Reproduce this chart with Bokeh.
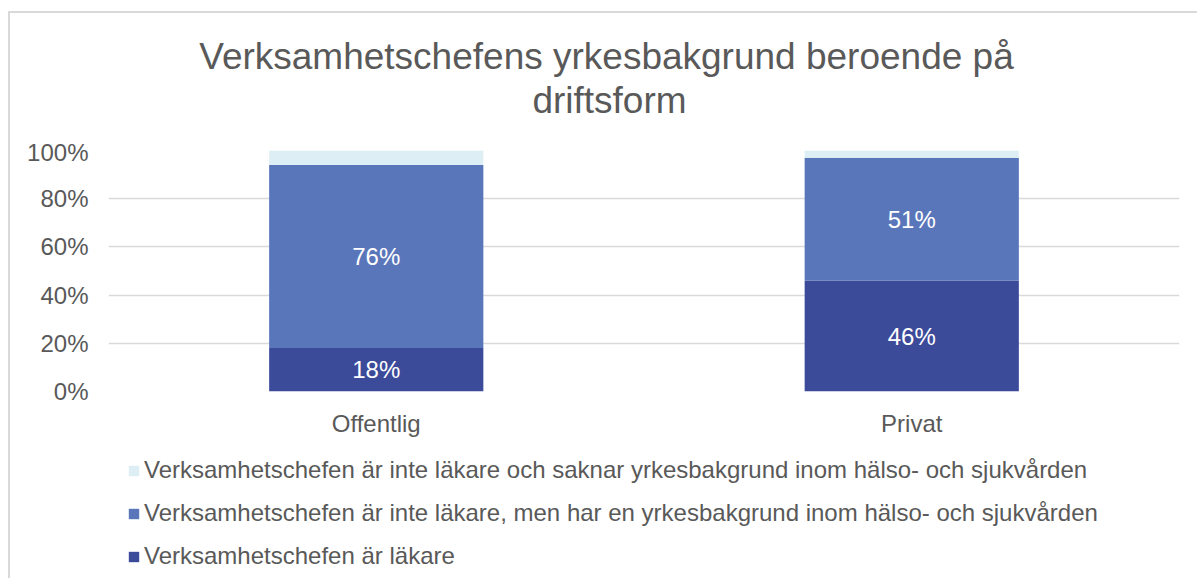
from bokeh.plotting import figure
from bokeh.layouts import column
from bokeh.models import FactorRange, ColumnDataSource, Legend, LegendItem, PrintfTickFormatter, FixedTicker, Range1d
from bokeh.core.properties import value
from bokeh.embed import file_html
from bokeh.resources import INLINE

categories = ["Offentlig", "Privat"]
lakare = [18, 46]
inte_lakare_halso = [76, 51]
inte_lakare_saknar = [6, 3]
series_names = [
    "Verksamhetschefen är läkare",
    "Verksamhetschefen är inte läkare, men har en yrkesbakgrund inom hälso- och sjukvården",
    "Verksamhetschefen är inte läkare och saknar yrkesbakgrund inom hälso- och sjukvården",
]
title_lines = ["Verksamhetschefens yrkesbakgrund beroende på", "driftsform"]
colors = ["#3C4A9A", "#5A76BA", "#DDEFF4"]
y_ticks = [0, 20, 40, 60, 80, 100]

FONT = "Liberation Sans"
GRAY = "#595959"
W = 1189
ML, MR = 98, 20

# ---- title strip ----
p0 = figure(x_range=Range1d(0, W - ML - MR), y_range=Range1d(127, 0), width=W, height=127,
            output_backend="svg", toolbar_location=None,
            min_border_left=ML, min_border_right=MR, min_border_top=0, min_border_bottom=0)
p0.styles = {"margin-top": "11px", "margin-left": "8px",
             "border-top": "2px solid #D9D9D9", "border-left": "2px solid #D9D9D9"}
p0.xaxis.visible = False
p0.yaxis.visible = False
p0.xgrid.visible = False
p0.ygrid.visible = False
p0.outline_line_color = None
p0.text(x=[498, 501], y=[43, 87], text=title_lines, text_color=GRAY, text_font=value(FONT),
        text_font_size="37px", text_align="center", text_baseline="alphabetic")

# ---- main chart ----
src = ColumnDataSource(dict(cat=categories, a=lakare, b=inte_lakare_halso, c=inte_lakare_saknar))

p = figure(x_range=FactorRange(*categories), y_range=(0, 100),
           width=W, height=301, output_backend="svg", toolbar_location=None,
           min_border_left=ML, min_border_right=MR, min_border_top=12, min_border_bottom=48)
p.styles = {"margin-left": "8px", "border-left": "2px solid #D9D9D9"}

rs = p.vbar_stack(["a", "b", "c"], x="cat", width=0.4, source=src, color=colors, line_color=None)

lab_x, lab_y, lab_t = [], [], []
for i, c in enumerate(categories):
    lab_x += [c, c]
    lab_y += [lakare[i] / 2, lakare[i] + inte_lakare_halso[i] / 2]
    lab_t += [f"{lakare[i]}%", f"{inte_lakare_halso[i]}%"]
p.text(x=lab_x, y=lab_y, text=lab_t, text_color="white", text_font=value(FONT),
       text_font_size="24px", text_align="center", text_baseline="middle")

p.title.text = ""
p.xgrid.grid_line_color = None
p.ygrid.grid_line_color = "#D9D9D9"
p.ygrid.grid_line_width = 1.5
p.yaxis.ticker = FixedTicker(ticks=y_ticks)
p.yaxis.formatter = PrintfTickFormatter(format="%d%%")
for ax in (p.xaxis, p.yaxis):
    ax.axis_line_color = None
    ax.major_tick_line_color = None
    ax.minor_tick_line_color = None
    ax.major_label_text_font = FONT
    ax.major_label_text_font_size = "24px"
    ax.major_label_text_color = GRAY
p.yaxis.major_label_standoff = 14
p.xaxis.major_label_standoff = 12
p.outline_line_color = None

# ---- legend strip ----
p2 = figure(x_range=Range1d(0, 1), y_range=Range1d(0, 1), width=W, height=139,
            output_backend="svg", toolbar_location=None,
            min_border_left=ML, min_border_right=MR, min_border_top=0, min_border_bottom=0)
p2.styles = {"margin-left": "8px", "border-left": "2px solid #D9D9D9"}
p2.xaxis.visible = False
p2.yaxis.visible = False
p2.xgrid.visible = False
p2.ygrid.visible = False
p2.outline_line_color = None
dummies = [p2.vbar(x=[-10], bottom=[-6], top=[-5], width=0.1, color=colors[i], line_color=None)
           for i in range(3)]
items = [LegendItem(label=series_names[i], renderers=[dummies[i]]) for i in (2, 1, 0)]
legend = Legend(items=items, location=(19, 8), orientation="vertical")
legend.margin = 0
legend.padding = 0
legend.spacing = 15
legend.glyph_width = 13
legend.glyph_height = 13
legend.label_standoff = 4
legend.label_text_font = FONT
legend.label_text_font_size = "24px"
legend.label_text_color = GRAY
legend.border_line_color = None
legend.background_fill_alpha = 0
p2.add_layout(legend, "center")

layout = column(p0, p, p2, spacing=0)

open("out.html", "w").write(file_html(layout, INLINE))
